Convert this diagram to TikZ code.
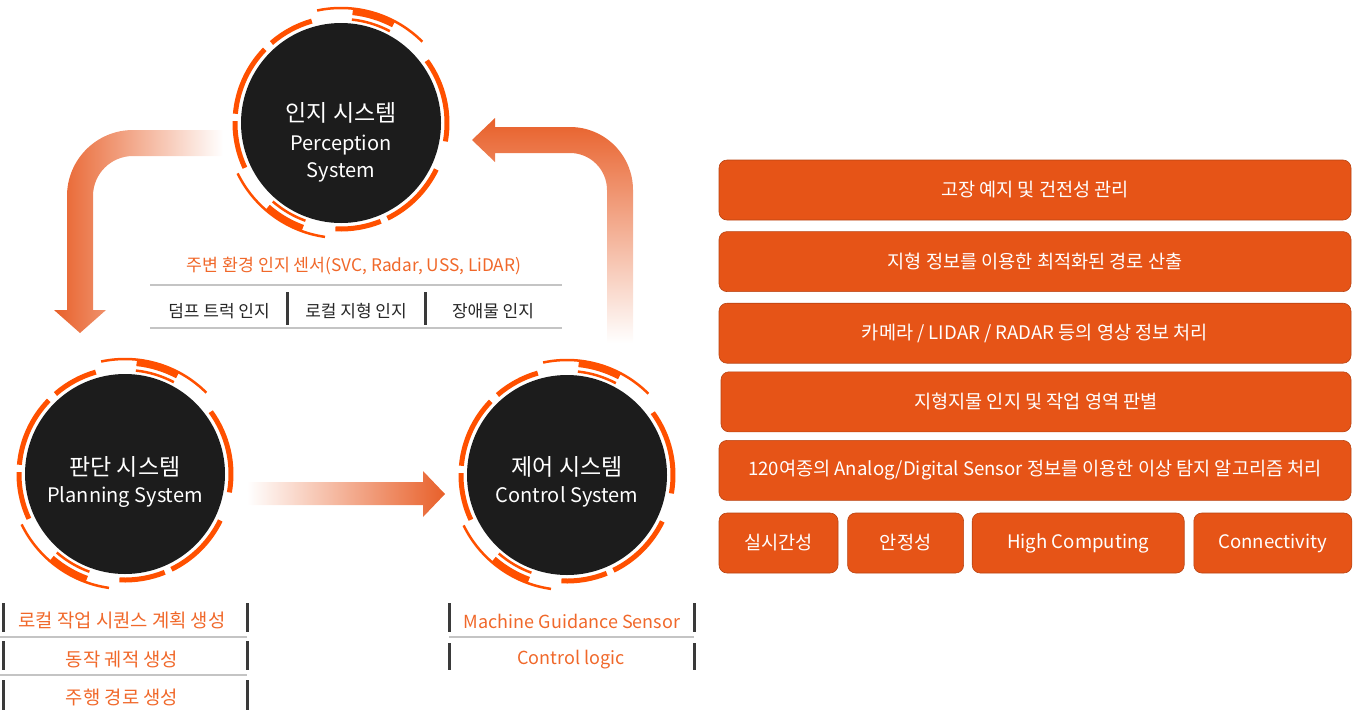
\documentclass[tikz,border=0pt]{standalone}
\usepackage{fontspec}
\setmainfont{Noto Sans CJK KR}
\usetikzlibrary{positioning}

\definecolor{ringorange}{HTML}{FF5000}
\definecolor{circleblack}{HTML}{1C1C1C}
\definecolor{arroworange}{HTML}{E8602A}
\definecolor{boxorange}{HTML}{E65417}
\definecolor{textorange}{HTML}{F0682A}
\definecolor{rulegray}{HTML}{C4C4C4}
\definecolor{bardark}{HTML}{3A3A3A}

% broken orange rings round a system disc (angles as seen on the page)
\newcommand{\ringdeco}[1]{%
    \begin{scope}[shift={(#1)}, yscale=-1]
        \foreach \a/\b in {106/131, 136/175, 179/205, 267/292, 296/334, 350/396}
            \draw[ring] (\a:106) arc[start angle=\a, end angle=\b, radius=106];
        \foreach \a/\b in {45/102, 206/262}
            \draw[thinring] (\a:115) arc[start angle=\a, end angle=\b, radius=115];
        \foreach \a/\b in {62/84, 229/250} {
            \draw[chunkring] (\a:112) arc[start angle=\a, end angle=\b, radius=112];
            \draw[thinring] (\a:104) arc[start angle=\a, end angle=\b, radius=104];
        }
    \end{scope}}

\begin{document}
\begin{tikzpicture}[x=1pt, y=-1pt]
        \tikzset{
            system/.style={circle, fill=circleblack, minimum size=200pt, inner sep=0pt}, % black discs
            systitle/.style={text=white, inner sep=0pt, font=\fontsize{23}{26}\selectfont},
            syssub/.style={text=white, inner sep=0pt, font=\fontsize{20}{24}\selectfont},
            ring/.style={ringorange, line width=5pt},
            thinring/.style={ringorange, line width=2.5pt},
            chunkring/.style={ringorange, line width=7pt},
            sensortext/.style={text=textorange, inner sep=0pt, font=\fontsize{17.3}{20}\selectfont},
            tasktext/.style={text=black!85, inner sep=0pt, font=\fontsize{17}{20}\selectfont},
            listtext/.style={text=textorange, inner sep=0pt, font=\fontsize{18.8}{22}\selectfont},
            latintext/.style={text=textorange, inner sep=0pt, font=\fontsize{18}{22}\selectfont},
            rule/.style={rulegray, line width=1.2pt},
            bar/.style={bardark, line width=3pt},
            infobox/.style={rectangle, rounded corners=8pt, fill=boxorange, draw=boxorange!80!black, line width=0.6pt,
                text=white, minimum height=60pt, inner sep=0pt, font=\fontsize{18.6}{22}\selectfont},
            }
        \useasboundingbox (0,0) rectangle (1359,710);

        % arrows
        \shade[left color=arroworange, right color=white] (223,130) -- (133,130) arc[start angle=270, end angle=180, radius=66]
            -- (67,310) -- (54,310) -- (80,333) -- (106,310) -- (93,310) -- (93,196)
            arc[start angle=180, end angle=270, radius=40] -- (223,156) -- cycle;
        \shade[top color=arroworange, bottom color=white] (607,343) -- (607,190) arc[start angle=360, end angle=270, radius=37]
            -- (495,153) -- (495,162) -- (472,140) -- (495,118) -- (495,127) -- (570,127)
            arc[start angle=270, end angle=360, radius=63] -- (633,343) -- cycle;
        \shade[left color=white, right color=arroworange] (247,482) -- (423,482) -- (423,471) -- (445,494)
            -- (423,517) -- (423,505) -- (247,505) -- cycle;

        % system nodes
        \node[system] (perception) at (341,123) {};
        \node[system] (planning) at (125,474) {};
        \node[system] (control) at (567,475) {};
        \ringdeco{perception}
        \ringdeco{planning}
        \ringdeco{control}

        \node[systitle] (perception_kr) at ([yshift=10pt]perception) {인지 시스템};
        \node[syssub] (perception_en1) at ([yshift=-22pt]perception) {Perception};
        \node[syssub] (perception_en2) at ([yshift=-49pt]perception) {System};
        \node[systitle] (planning_kr) at ([yshift=7pt]planning) {판단 시스템};
        \node[syssub] (planning_en) at ([yshift=-23pt]planning) {Planning System};
        \node[systitle] (control_kr) at ([yshift=8pt]control) {제어 시스템};
        \node[syssub] (control_en) at ([yshift=-22pt]control) {Control System};

        % perception list
        \node[sensortext] (sensors) at (354,266) {주변 환경 인지 센서(SVC, Radar, USS, LiDAR)};
        \draw[rule] (150,285) -- (562,285);
        \node[tasktext] (dump_truck) at (219,311) {덤프 트럭 인지};
        \node[tasktext] (local_terrain) at (356,311) {로컬 지형 인지};
        \node[tasktext] (obstacle) at (493,311) {장애물 인지};
        \draw[bar] (287,292) -- (287,325);
        \draw[bar] (425,292) -- (425,325);
        \draw[rule] (150,328) -- (562,328);

        % planning list
        \node[listtext] (work_seq) at (122,620) {로컬 작업 시퀀스 계획 생성};
        \node[listtext] (motion) at (122,659) {동작 궤적 생성};
        \node[listtext] (route) at (122,697) {주행 경로 생성};
        \foreach \t/\b in {603/632, 641/670, 680/710} {
            \draw[bar] (3,\t) -- (3,\b);
            \draw[bar] (247,\t) -- (247,\b);
        }
        \draw[rule] (0,637) -- (247,637);
        \draw[rule] (0,675) -- (247,675);

        % control list
        \node[latintext] (mg_sensor) at (572,621) {Machine Guidance Sensor};
        \node[latintext] (ctrl_logic) at (571,660) {Control logic};
        \foreach \t/\b in {603/632, 643/670} {
            \draw[bar] (449,\t) -- (449,\b);
            \draw[bar] (694,\t) -- (694,\b);
        }
        \draw[rule] (449,637) -- (694,637);

        % feature boxes
        \node[infobox, minimum width=632pt] (box1) at (1035,190) {고장 예지 및 건전성 관리};
        \node[infobox, minimum width=632pt, below=11pt of box1] (box2) {지형 정보를 이용한 최적화된 경로 산출};
        \node[infobox, minimum width=632pt, below=11pt of box2] (box3) {카메라 / LIDAR / RADAR 등의 영상 정보 처리};
        \node[infobox, minimum width=630pt, below=8pt of box3, xshift=1pt] (box4) {지형지물 인지 및 작업 영역 판별};
        \node[infobox, minimum width=632pt, below=8pt of box4, xshift=-1pt] (box5) {120여종의 Analog/Digital Sensor 정보를 이용한 이상 탐지 알고리즘 처리};
        \node[infobox, minimum width=119pt, anchor=north west] (realtime) at ([yshift=-12pt]box5.south west) {실시간성};
        \node[infobox, minimum width=116pt, right=9pt of realtime] (stability) {안정성};
        \node[infobox, minimum width=212pt, right=8pt of stability] (computing) {High Computing};
        \node[infobox, minimum width=158pt, right=9pt of computing] (connectivity) {Connectivity};
    \end{tikzpicture}
\end{document}
